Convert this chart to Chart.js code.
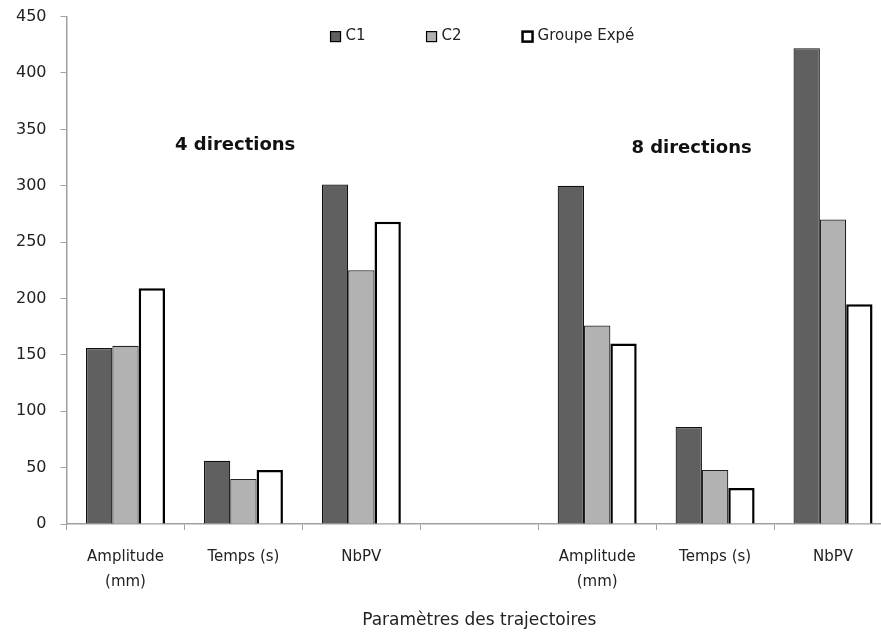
<!DOCTYPE html>
<html>
<head>
<meta charset="utf-8">
<script src="https://cdn.jsdelivr.net/npm/chart.js@4.4.0/dist/chart.umd.min.js"></script>
<style>
  html, body { margin: 0; padding: 0; background: #fff; overflow: hidden; }
  #wrap { width: 900px; height: 641px; position: relative; top: -7px; }
</style>
</head>
<body>
<div id="wrap"><canvas id="chart"></canvas></div>
<script>
// categories (empty slot separates the two blocks)
const categories = [['Amplitude', '(mm)'], 'Temps (s)', 'NbPV', '', ['Amplitude', '(mm)'], 'Temps (s)', 'NbPV'];

const c1Values = [156, 56, 301, null, 300, 86, 422];
const c2Values = [158, 40, 225, null, 176, 48, 270];
const expeValues = [209, 48, 268, null, 160, 32, 195];

const yTicks = [0, 50, 100, 150, 200, 250, 300, 350, 400, 450];

// block captions: text, category position, value position
const captionTexts = ['4 directions', '8 directions'];
const captionX = [0.93, 4.8];
const captionY = [336, 333];

const FONT = "'DejaVu Sans', sans-serif";

// legend drawn inside the plot, near the top
const insideLegend = {
  id: 'insideLegend',
  afterDraw(chart) {
    let ctx = chart.ctx;
    let area = chart.chartArea;
    let left = area.left + 264;
    let step = 96;
    let yc = area.top + 20;
    ctx.save();
    ctx.font = '15px ' + FONT;
    ctx.textBaseline = 'middle';
    ctx.textAlign = 'left';
    chart.data.datasets.forEach((ds, i) => {
      let x = left + i * step;
      ctx.fillStyle = ds.backgroundColor;
      ctx.fillRect(x, yc - 5, 10, 10);
      ctx.lineWidth = ds.borderWidth > 2 ? 2.5 : 1.2;
      ctx.strokeStyle = '#000';
      ctx.strokeRect(x, yc - 5, 10, 10);
      ctx.fillStyle = '#222';
      ctx.fillText(ds.label, x + 15, yc);
    });
    ctx.restore();
  }
};

const captions = {
  id: 'captions',
  afterDraw(chart) {
    let ctx = chart.ctx;
    let x = chart.scales.x;
    let y = chart.scales.y;
    ctx.save();
    ctx.font = 'bold 18px ' + FONT;
    ctx.fillStyle = '#111';
    ctx.textAlign = 'center';
    ctx.textBaseline = 'middle';
    for (let i = 0; i < captionTexts.length; i++) {
      ctx.fillText(captionTexts[i], x.getPixelForValue(captionX[i]), y.getPixelForValue(captionY[i]));
    }
    ctx.restore();
  }
};

let ctx = document.getElementById('chart').getContext('2d');
new Chart(ctx, {
  type: 'bar',
  data: {
    labels: categories,
    datasets: [
      { label: 'C1', data: c1Values, backgroundColor: '#606060', borderColor: '#111', borderWidth: 1.2 },
      { label: 'C2', data: c2Values, backgroundColor: '#b2b2b2', borderColor: '#222', borderWidth: 1.2 },
      { label: 'Groupe Expé', data: expeValues, backgroundColor: '#fff', borderColor: '#000', borderWidth: 2.5 }
    ]
  },
  options: {
    responsive: true,
    maintainAspectRatio: false,
    animation: false,
    layout: { padding: { left: 2, right: 8, top: 0, bottom: 0 } },
    datasets: {
      bar: { categoryPercentage: 0.67, barPercentage: 1 }
    },
    plugins: {
      legend: { display: false },
      tooltip: { enabled: false }
    },
    scales: {
      x: {
        grid: {
          display: true,
          drawOnChartArea: false,
          color: '#a0a0a0',
          tickLength: 6,
          offset: true
        },
        border: { color: '#a0a0a0', width: 1.5 },
        ticks: {
          font: { family: FONT, size: 15, lineHeight: 1.7 },
          color: '#222',
          padding: 14,
          maxRotation: 0,
          autoSkip: false
        },
        title: {
          display: true,
          text: 'Paramètres des trajectoires',
          font: { family: FONT, size: 17, lineHeight: 1.0 },
          color: '#222',
          padding: { top: 3, bottom: 5 }
        }
      },
      y: {
        min: 0,
        max: 450,
        afterBuildTicks: (axis) => { axis.ticks = yTicks.map(v => ({ value: v })); },
        grid: {
          display: true,
          drawOnChartArea: false,
          color: '#a0a0a0',
          tickLength: 6
        },
        border: { color: '#a0a0a0', width: 1.5 },
        ticks: {
          font: { family: FONT, size: 16 },
          color: '#222',
          padding: 14
        }
      }
    }
  },
  plugins: [insideLegend, captions]
});
</script>
</body>
</html>
